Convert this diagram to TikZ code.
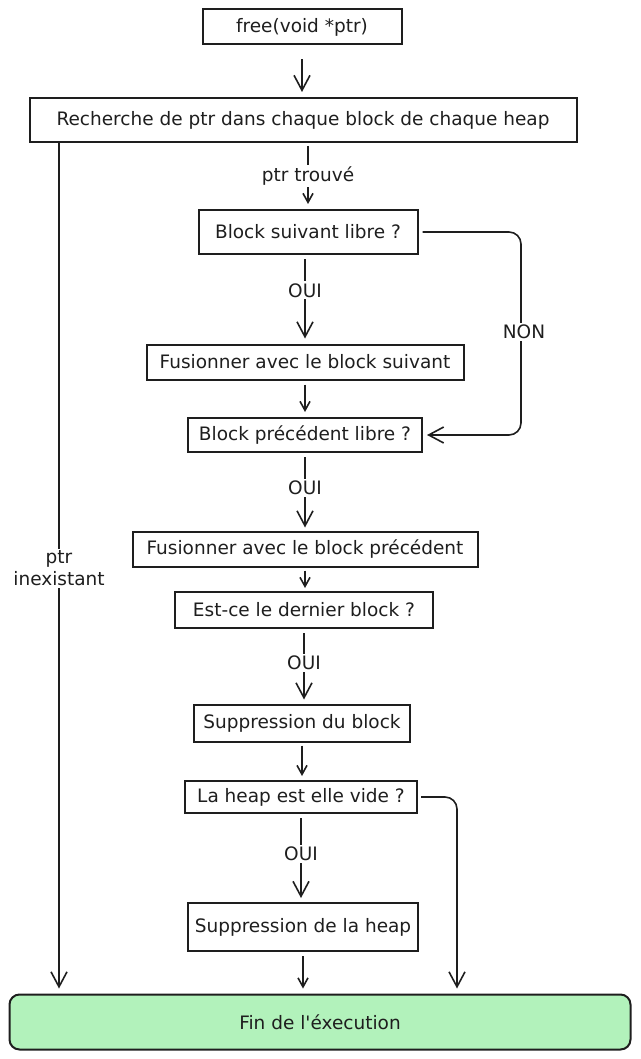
\documentclass[tikz,border=0pt]{standalone}
\usepackage{fontspec}
\setmainfont{DejaVu Sans}[Ligatures=TeXOff]
\usetikzlibrary{arrows.meta}

\definecolor{ink}{HTML}{1E1E1E}
\definecolor{finfill}{HTML}{B2F2BB}

\begin{document}
\begin{tikzpicture}[
  x=1pt, y=-1pt,
  every node/.style={font=\fontsize{18.5}{22}\selectfont, text=ink},
  box/.style={shape=rectangle, draw=ink, line width=2pt, inner sep=0pt},
  lbl/.style={fill=white, inner sep=2pt, align=center},
  arr/.style={draw=ink, line width=1.6pt, -{Straight Barb[length=15pt,width=16pt]}},
  sarr/.style={draw=ink, line width=1.6pt, -{Straight Barb[length=9pt,width=10pt]}}
]
\useasboundingbox (0,0) rectangle (640,1059);

% etapes
\node [box, minimum width=199pt, minimum height=35pt] (free) at (302,27) {free(void *ptr)};
\node [box, minimum width=547pt, minimum height=44pt] (search) at (303,120) {Recherche de ptr dans chaque block de chaque heap};
\node [box, minimum width=219pt, minimum height=44pt] (suiv) at (308,232) {Block suivant libre ?};
\node [box, minimum width=317pt, minimum height=35pt] (fsuiv) at (305,362) {Fusionner avec le block suivant};
\node [box, minimum width=234pt, minimum height=34pt] (prec) at (305,435) {Block précédent libre ?};
\node [box, minimum width=345pt, minimum height=35pt] (fprec) at (305,549) {Fusionner avec le block précédent};
\node [box, minimum width=258pt, minimum height=36pt] (dernier) at (304,610) {Est-ce le dernier block ?};
\node [box, minimum width=216pt, minimum height=37pt] (supblock) at (302,723) {Suppression du block};
\node [box, minimum width=232pt, minimum height=32pt] (vide) at (301,797) {La heap est elle vide ?};
\node [box, minimum width=230pt, minimum height=48pt] (supheap) at (303,927) {Suppression de la heap};
\node [box, rounded corners=10pt, fill=finfill, minimum width=621pt, minimum height=55pt] (fin) at (320,1022) {Fin de l'éxecution};

\coordinate (nonx) at (521,0);
\coordinate (videx) at (457,0);
\coordinate (leftx) at (59,0);

% liens
\draw [arr, shorten <=14pt, shorten >=5pt] (free.south) -- (free.south |- search.north);
\draw [sarr, shorten <=3pt, shorten >=5pt] (search.south -| suiv) -- node [lbl] {ptr trouvé} (suiv.north);
\draw [arr, shorten <=4pt, shorten >=5pt] (suiv.south -| fsuiv) -- node [lbl, pos=0.4] {OUI} (fsuiv.north);
\draw [arr, rounded corners=12pt, shorten <=4pt, shorten >=4pt] (suiv.east) -| (nonx |- prec.east) -- (prec.east);
\node [lbl] (non) at (524,332) {NON};
\draw [sarr, shorten <=4pt, shorten >=5pt] (fsuiv.south) -- (prec.north);
\draw [arr, shorten <=4pt, shorten >=3pt] (prec.south) -- node [lbl, pos=0.45] {OUI} (fprec.north);
\draw [sarr, shorten <=3pt, shorten >=3pt] (fprec.south) -- (fprec.south |- dernier.north);
\draw [arr, shorten <=4pt, shorten >=4pt] (dernier.south) -- node [lbl, pos=0.45] {OUI} (dernier.south |- supblock.north);
\draw [sarr, shorten <=3pt, shorten >=4pt] (supblock.south) -- (supblock.south |- vide.north);
\draw [arr, shorten <=4pt, shorten >=4pt] (vide.south) -- node [lbl, pos=0.45] {OUI} (vide.south |- supheap.north);
\draw [arr, rounded corners=12pt, shorten <=3pt, shorten >=5pt] (vide.east) -| (videx |- fin.north);
\draw [sarr, shorten <=4pt, shorten >=5pt] (supheap.south) -- (fin.north -| supheap.south);
\draw [arr, shorten >=5pt] (leftx |- search.south) -- node [lbl] {ptr\\inexistant} (leftx |- fin.north);

\end{tikzpicture}
\end{document}
